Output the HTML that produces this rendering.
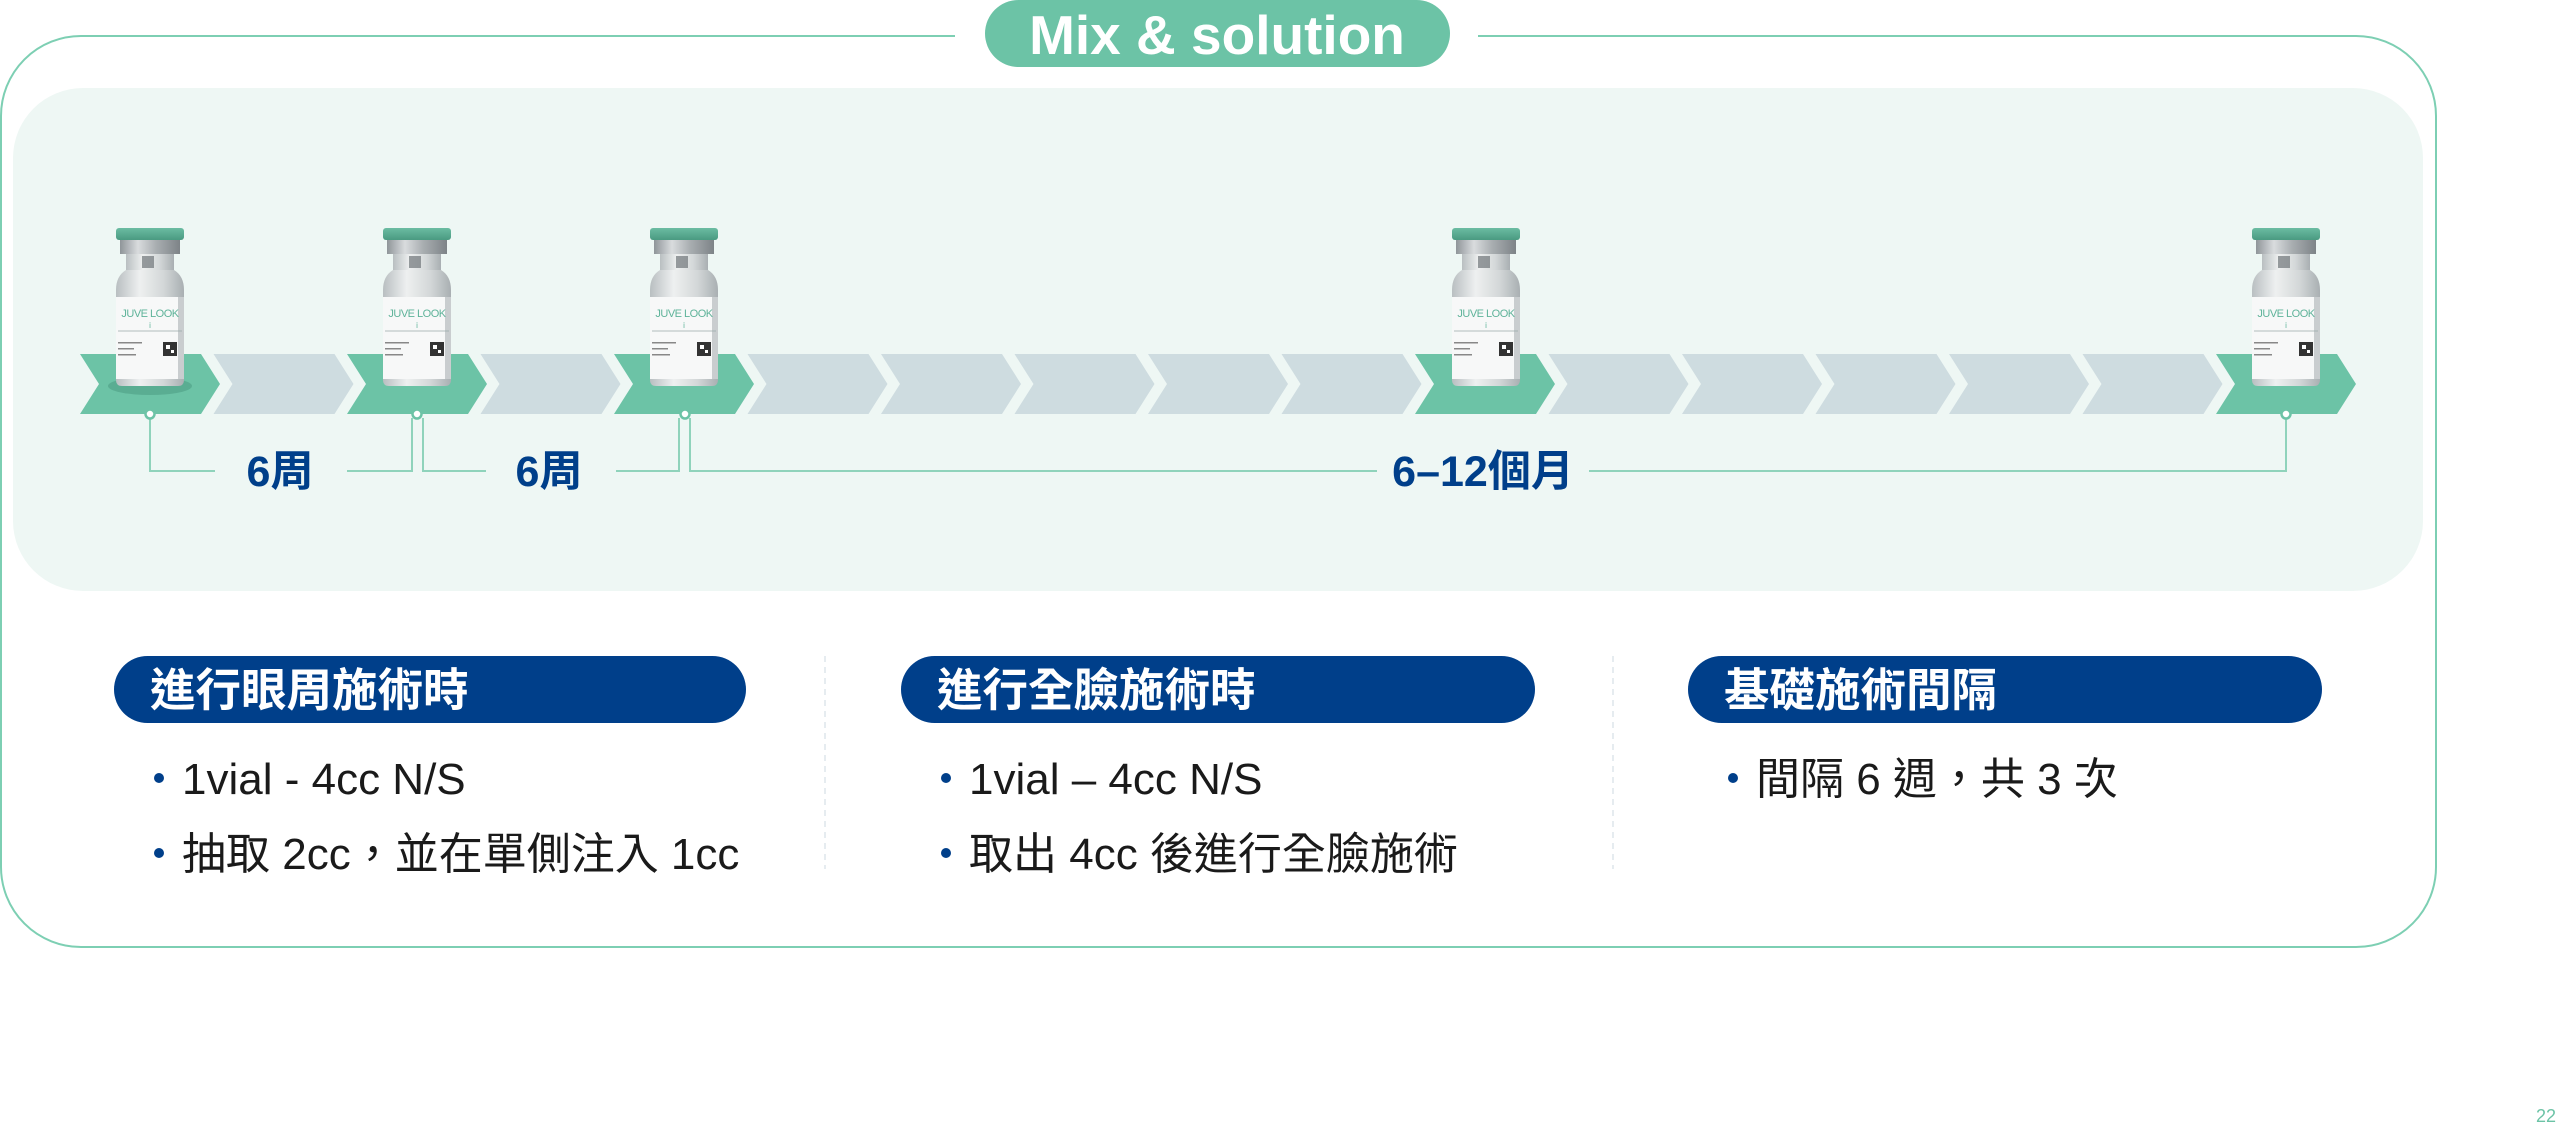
<!DOCTYPE html>
<html><head><meta charset="utf-8">
<style>
html,body{margin:0;padding:0;background:#fff;}
svg{display:block;}
text{font-family:"Liberation Sans","Noto Sans CJK TC",sans-serif;}
</style></head>
<body>
<svg width="2560" height="1124" viewBox="0 0 2560 1124" xmlns="http://www.w3.org/2000/svg">
<defs>
  <polygon id="chev" points="0,354 121,354 140,384 121,414 0,414 19,384"/>
  <linearGradient id="metal" x1="0" x2="1" y1="0" y2="0">
    <stop offset="0" stop-color="#8f9599"/><stop offset="0.3" stop-color="#d9dcde"/>
    <stop offset="0.6" stop-color="#a9aeb1"/><stop offset="1" stop-color="#7d8387"/>
  </linearGradient>
  <linearGradient id="glass" x1="0" x2="1" y1="0" y2="0">
    <stop offset="0" stop-color="#b9bfc1"/><stop offset="0.35" stop-color="#eef0f0"/>
    <stop offset="0.7" stop-color="#d3d7d8"/><stop offset="1" stop-color="#a9afb2"/>
  </linearGradient>
  <linearGradient id="capg" x1="0" x2="0" y1="0" y2="1">
    <stop offset="0" stop-color="#6bbca2"/><stop offset="1" stop-color="#4a9a81"/>
  </linearGradient>
  <g id="vial">
    <rect x="-34" y="228" width="68" height="12" rx="3" fill="url(#capg)"/>
    <rect x="-30" y="240" width="60" height="14" fill="url(#metal)"/>
    <rect x="-24" y="254" width="48" height="26" fill="url(#glass)"/>
    <rect x="-8" y="256" width="12" height="12" fill="#6f7579" opacity="0.7"/>
    <path d="M-24,270 Q-34,276 -34,290 L-34,380 Q-34,386 -28,386 L28,386 Q34,386 34,380 L34,290 Q34,276 24,270 Z" fill="url(#glass)"/>
    <rect x="-34" y="297" width="68" height="82" fill="#f7f8f8"/>
    <rect x="28" y="297" width="6" height="82" fill="#c9cdcf"/>
    <text x="0" y="317" font-size="11" fill="#5fb39a" text-anchor="middle" letter-spacing="-0.5">JUVE LOOK</text>
    <text x="0" y="328" font-size="8" fill="#5fb39a" text-anchor="middle">i</text>
    <line x1="-32" y1="331" x2="32" y2="331" stroke="#9aa" stroke-width="0.8"/>
    <rect x="13" y="342" width="14" height="14" fill="#333"/>
    <rect x="16" y="345" width="4" height="4" fill="#fff"/><rect x="21" y="350" width="3" height="3" fill="#fff"/>
    <rect x="-32" y="342" width="24" height="1.5" fill="#888"/>
    <rect x="-32" y="348" width="16" height="1.5" fill="#888"/>
    <rect x="-32" y="354" width="18" height="1.5" fill="#888"/>
  </g>
</defs>

<rect x="1" y="36" width="2435" height="911" rx="80" ry="80" fill="#fff" stroke="#7dcfb3" stroke-width="2"/>
<rect x="955" y="28" width="523" height="16" fill="#fff"/>
<rect x="985" y="0" width="465" height="67" rx="33.5" fill="#6cc3a6"/>
<text x="1217" y="54" font-size="55" font-weight="bold" fill="#fff" text-anchor="middle">Mix &amp; solution</text>

<rect x="13" y="88" width="2410" height="503" rx="70" fill="#eef7f4"/>

<g fill="#cedce0">
  <use href="#chev" x="213.5"/><use href="#chev" x="480.5"/><use href="#chev" x="747.5"/>
  <use href="#chev" x="881"/><use href="#chev" x="1014.5"/><use href="#chev" x="1148"/>
  <use href="#chev" x="1281.5"/><use href="#chev" x="1548.5"/><use href="#chev" x="1682"/>
  <use href="#chev" x="1815.5"/><use href="#chev" x="1949"/><use href="#chev" x="2082.5"/>
</g>
<g fill="#6cc3a6">
  <use href="#chev" x="80"/><use href="#chev" x="347"/><use href="#chev" x="614"/>
  <use href="#chev" x="1415"/><use href="#chev" x="2216"/>
</g>

<ellipse cx="150" cy="386" rx="42" ry="9" fill="#4f9f85" opacity="0.6"/>
<use href="#vial" x="150"/>
<use href="#vial" x="417"/>
<use href="#vial" x="684"/>
<use href="#vial" x="1486"/>
<use href="#vial" x="2286"/>

<g fill="none" stroke="#8fd3bb" stroke-width="2">
  <path d="M150,418 V471 H215"/>
  <path d="M347,471 H412 V418"/>
  <path d="M423,418 V471 H486"/>
  <path d="M616,471 H679 V418"/>
  <path d="M690,418 V471 H1377"/>
  <path d="M1589,471 H2286 V418"/>
</g>
<g fill="#fff" stroke="#6cc3a6" stroke-width="2.5">
  <circle cx="150" cy="414" r="4.5"/><circle cx="417" cy="414" r="4.5"/>
  <circle cx="685" cy="414" r="4.5"/><circle cx="2286" cy="414" r="4.5"/>
</g>
<g font-size="43" font-weight="bold" fill="#003f8a" text-anchor="middle">
  <text x="280" y="486">6周</text>
  <text x="549" y="486">6周</text>
  <text x="1483" y="486">6–12個月</text>
</g>

<g stroke="#dde5ec" stroke-width="1.5" stroke-dasharray="6,5">
  <line x1="825" y1="656" x2="825" y2="869"/>
  <line x1="1613" y1="656" x2="1613" y2="869"/>
</g>

<g fill="#003f8a">
  <rect x="114" y="656" width="632" height="67" rx="33.5"/>
  <rect x="901" y="656" width="634" height="67" rx="33.5"/>
  <rect x="1688" y="656" width="634" height="67" rx="33.5"/>
</g>
<g font-size="45.5" font-weight="bold" fill="#fff">
  <text x="150" y="706">進行眼周施術時</text>
  <text x="937" y="706">進行全臉施術時</text>
  <text x="1724" y="706">基礎施術間隔</text>
</g>

<g fill="#003f8a">
  <circle cx="159" cy="778" r="5"/><circle cx="159" cy="853" r="5"/>
  <circle cx="946" cy="778" r="5"/><circle cx="946" cy="853" r="5"/>
  <circle cx="1733" cy="778" r="5"/>
</g>
<g font-size="44" fill="#1a1a1a">
  <text x="182" y="794">1vial - 4cc N/S</text>
  <text x="182" y="869">抽取 2cc，並在單側注入 1cc</text>
  <text x="969" y="794">1vial – 4cc N/S</text>
  <text x="969" y="869">取出 4cc 後進行全臉施術</text>
  <text x="1756" y="794">間隔 6 週，共 3 次</text>
</g>

<text x="2556" y="1122" font-size="18" fill="#6cc3a6" text-anchor="end">22</text>
</svg>
</body></html>
